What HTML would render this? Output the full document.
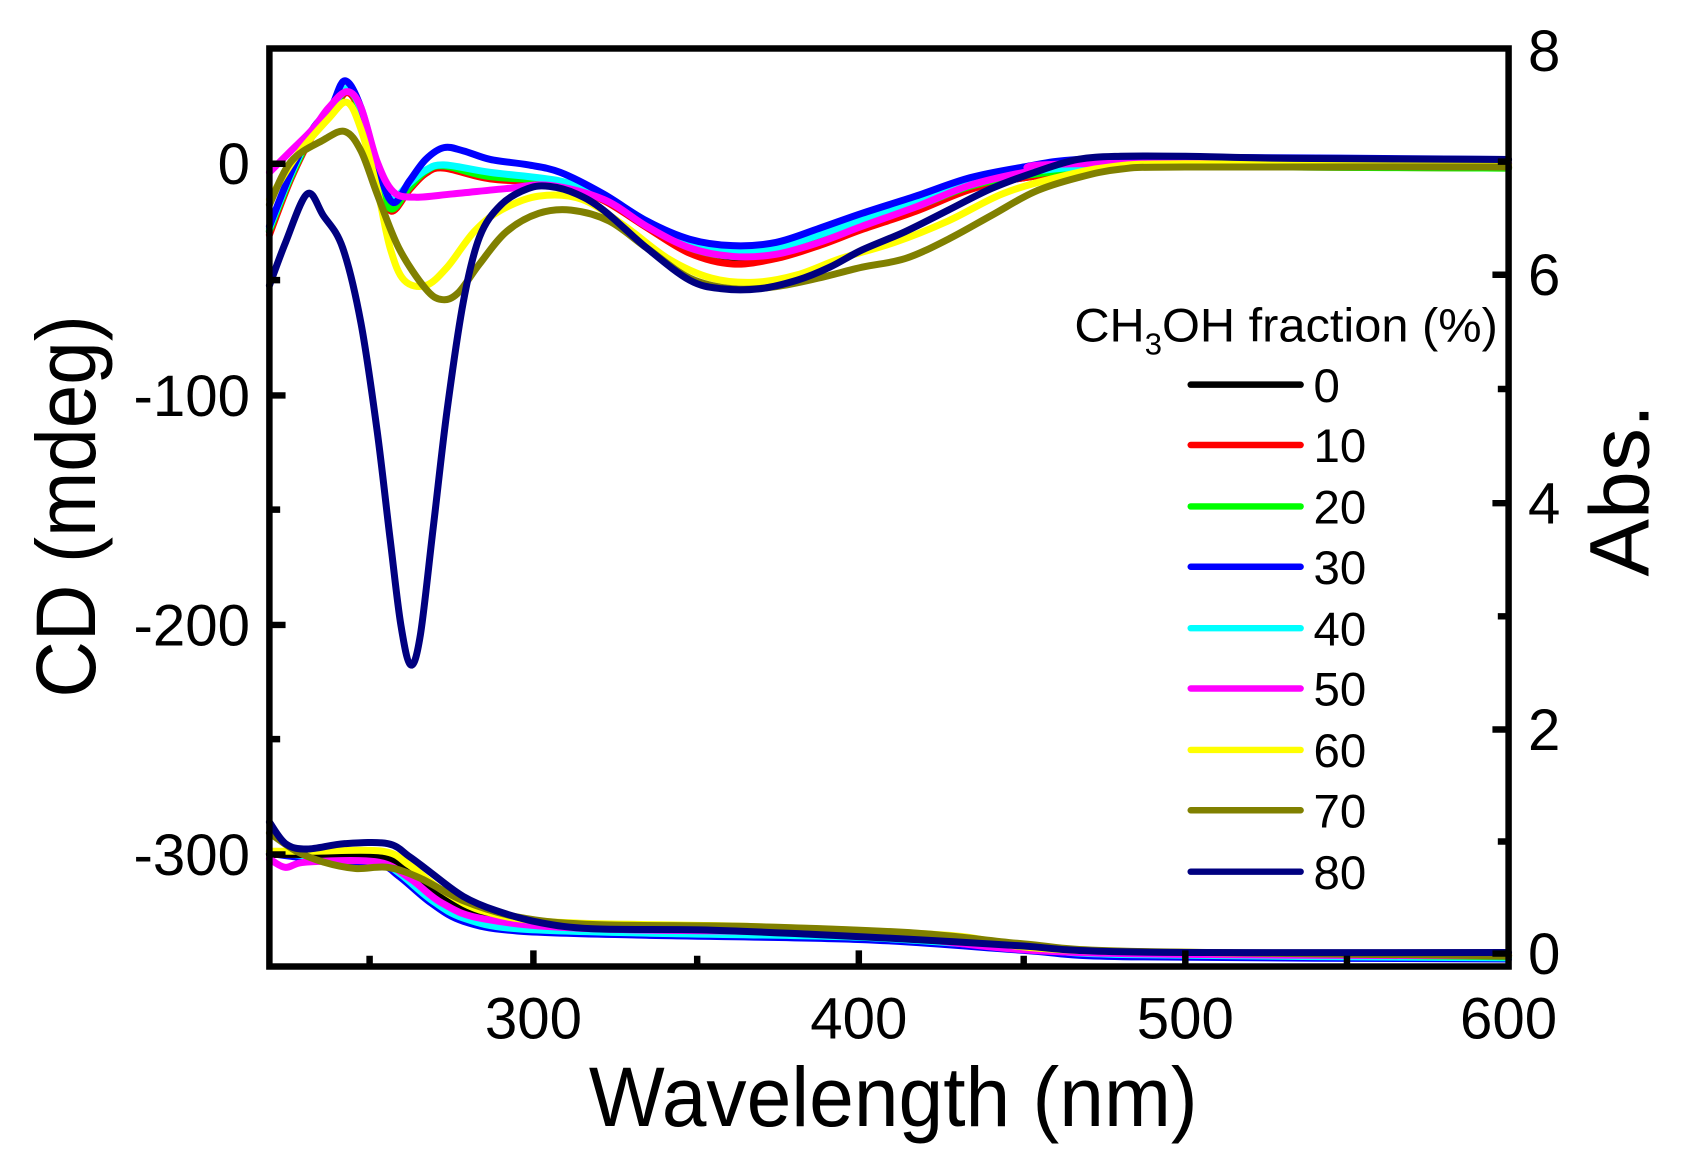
<!DOCTYPE html>
<html><head><meta charset="utf-8"><style>
html,body{margin:0;padding:0;background:#fff;}
svg{display:block;}
text{font-family:"Liberation Sans Narrow","Liberation Sans",sans-serif;fill:#000;}
</style></head><body>
<svg id="s" width="1681" height="1168" viewBox="0 0 1560 1084" preserveAspectRatio="none" xmlns="http://www.w3.org/2000/svg">
<g id="curves" fill="none" stroke-width="6.5" stroke-linejoin="round" stroke-linecap="round"></g>
<g stroke="#000" stroke-width="6" fill="none">
<rect x="250" y="45" width="1150" height="852"/>
<path d="M250 152h15M250 367h15M250 580h15M250 793h15M250 260h10M250 473h10M250 686h10"/>
<path d="M1400 885h-15M1400 677h-15M1400 467h-15M1400 255h-15M1400 781h-10M1400 572h-10M1400 361h-10M1400 150h-10"/>
<path d="M495 897v-15M797 897v-15M1100 897v-15M343 897v-10M647 897v-10M950 897v-10M1250 897v-10"/>
</g>
<g font-size="54" text-anchor="end">
<text x="232" y="171">0</text><text x="232" y="386">-100</text><text x="232" y="599">-200</text><text x="232" y="812">-300</text>
</g>
<g font-size="54" text-anchor="start">
<text x="1418" y="66">8</text><text x="1418" y="274">6</text><text x="1418" y="486">4</text><text x="1418" y="696">2</text><text x="1418" y="904">0</text>
</g>
<g font-size="54" text-anchor="middle">
<text x="495" y="964">300</text><text x="797" y="964">400</text><text x="1100" y="964">500</text><text x="1400" y="964">600</text>
</g>
<text x="829" y="1045" font-size="78" text-anchor="middle" textLength="565" lengthAdjust="spacingAndGlyphs">Wavelength (nm)</text>
<text transform="translate(88,470) rotate(-90)" font-size="78" text-anchor="middle" textLength="355" lengthAdjust="spacingAndGlyphs">CD (mdeg)</text>
<text transform="translate(1530,455) rotate(-90)" font-size="78" text-anchor="middle" textLength="160" lengthAdjust="spacingAndGlyphs">Abs.</text>
<text x="997" y="317" font-size="44" textLength="393" lengthAdjust="spacingAndGlyphs">CH<tspan font-size="28" dy="12">3</tspan><tspan dy="-12">OH fraction (%)</tspan></text>
<g id="leg" stroke-width="6" stroke-linecap="round"></g>
<g font-size="44" id="legt"></g>
</svg>
<script>
var C={c0:"#000",c10:"#ff0000",c20:"#00ff00",c30:"#0000ff",c40:"#00ffff",c50:"#ff00ff",c60:"#ffff00",c70:"#808000",c80:"#000080"};
function P(a){var p=[];for(var i=0;i<a.length;i+=2)p.push([a[i],a[i+1]]);return p;}
function cr(p){var d="M"+p[0][0]+" "+p[0][1];for(var i=0;i<p.length-1;i++){var p0=p[i-1]||p[i],p1=p[i],p2=p[i+1],p3=p[i+2]||p2;
d+="C"+(p1[0]+(p2[0]-p0[0])/6).toFixed(1)+" "+(p1[1]+(p2[1]-p0[1])/6).toFixed(1)+" "+(p2[0]-(p3[0]-p1[0])/6).toFixed(1)+" "+(p2[1]-(p3[1]-p1[1])/6).toFixed(1)+" "+p2[0]+" "+p2[1];}return d;}
var cd={
c0:[250,215,270,165,290,125,307,105,322,85,335,105,352,165,363,195,380,175,395,160,412,155,455,165,520,170,560,185,600,210,640,232,680,242,720,238,760,226,800,212,850,195,900,175,950,165,1050,153,1200,155,1400,155],
c10:[250,218,270,166,290,126,307,106,322,86,335,106,352,167,363,196,380,176,395,161,412,156,455,166,520,171,560,186,600,211,640,235,680,245,720,240,760,228,800,213,850,196,900,176,950,165,1050,154,1200,155,1400,156],
c20:[250,214,270,164,290,124,307,104,322,84,335,104,352,165,363,194,380,174,395,159,412,154,455,164,520,169,560,184,600,208,640,230,680,238,720,234,760,222,800,208,850,192,900,173,950,163,1050,153,1200,155,1400,156],
c40:[250,212,270,162,290,122,307,102,322,82,335,102,352,160,363,185,380,170,395,158,412,153,455,160,520,168,560,182,600,205,640,225,680,233,720,230,760,218,800,204,850,188,900,170,950,160,1050,152,1200,152,1400,152],
c50:[250,160,270,140,290,120,305,100,322,85,335,100,350,150,365,178,385,183,420,180,470,175,510,172,560,185,600,210,640,230,680,238,720,236,760,225,800,210,850,192,900,172,950,160,1000,152,1400,152],
c60:[250,185,275,145,305,110,322,95,335,120,350,175,362,230,375,260,395,265,415,248,440,215,465,195,500,182,540,185,580,210,620,240,660,258,700,262,740,255,780,240,830,225,880,205,930,180,980,165,1030,155,1100,152,1400,153],
c30:[250,210,270,160,290,120,307,100,320,75,335,100,352,160,365,188,380,168,395,148,412,137,430,140,455,148,490,153,520,160,560,180,600,205,640,222,680,228,720,225,760,212,800,198,850,182,900,165,950,155,1000,148,1100,146,1400,148],
c70:[250,190,270,150,300,130,320,122,335,140,350,180,370,230,395,268,410,278,425,272,445,245,470,215,500,198,530,195,565,205,600,230,640,258,680,268,720,266,760,258,800,248,840,240,880,222,920,200,960,178,1000,165,1040,157,1100,155,1400,155],
c80:[250,265,265,225,285,180,300,200,318,230,335,300,350,400,362,500,372,580,381,617,390,590,402,490,415,380,430,280,445,220,465,190,490,175,510,173,535,180,560,195,600,230,640,260,670,268,705,268,740,260,770,248,800,232,840,215,880,195,920,175,960,160,1000,148,1040,145,1100,145,1200,147,1400,148]};
var ab={
c30:[250,792,290,797,350,802,370,813,400,838,430,855,480,864,600,868,800,872,950,882,1050,888,1400,890],
c40:[250,790,290,795,350,800,370,810,400,835,430,852,480,862,600,866,800,870,950,880,1050,886,1400,889],
c20:[250,792,290,792,350,795,375,805,405,830,440,848,500,858,650,862,850,868,1000,882,1400,888],
c10:[250,793,290,793,350,795,378,805,408,830,445,848,500,858,650,862,850,868,1000,882,1400,887],
c0:[250,793,290,793,350,795,378,805,408,830,445,848,500,858,650,862,850,868,1000,882,1400,887],
c50:[250,797,265,805,285,800,350,800,380,815,410,838,450,853,550,862,800,867,1000,884,1400,887],
c60:[250,790,290,790,355,790,380,803,410,826,450,846,520,856,700,860,880,868,1000,882,1400,886],
c70:[250,773,275,790,300,800,330,806,360,805,390,815,430,836,480,851,550,858,700,860,850,866,950,876,1050,883,1400,887],
c80:[250,763,265,783,285,788,320,783,360,783,380,795,400,810,430,832,460,845,500,856,550,862,650,863,750,867,850,872,950,878,1000,882,1100,884,1400,884]};
var g=document.getElementById("curves"),ns="http://www.w3.org/2000/svg";
function add(d,c){var e=document.createElementNS(ns,"path");e.setAttribute("d",d);e.setAttribute("stroke",c);g.appendChild(e);}
["c30","c40","c20","c10","c0","c50","c60","c70","c80"].forEach(function(k){add(cr(P(ab[k])),C[k]);});
["c0","c10","c20","c40","c30","c50","c60","c70","c80"].forEach(function(k){add(cr(P(cd[k])),C[k]);});
var L=document.getElementById("leg"),T=document.getElementById("legt");
var keys=["c0","c10","c20","c30","c40","c50","c60","c70","c80"],lab=["0","10","20","30","40","50","60","70","80"],ys=[357,413,470,526,583,639,696,752,809];
keys.forEach(function(k,i){var l=document.createElementNS(ns,"line");l.setAttribute("x1",1105);l.setAttribute("x2",1207);l.setAttribute("y1",ys[i]);l.setAttribute("y2",ys[i]);l.setAttribute("stroke",C[k]);L.appendChild(l);
var t=document.createElementNS(ns,"text");t.setAttribute("x",1219);t.setAttribute("y",ys[i]+16);t.textContent=lab[i];T.appendChild(t);});
</script>
</body></html>
